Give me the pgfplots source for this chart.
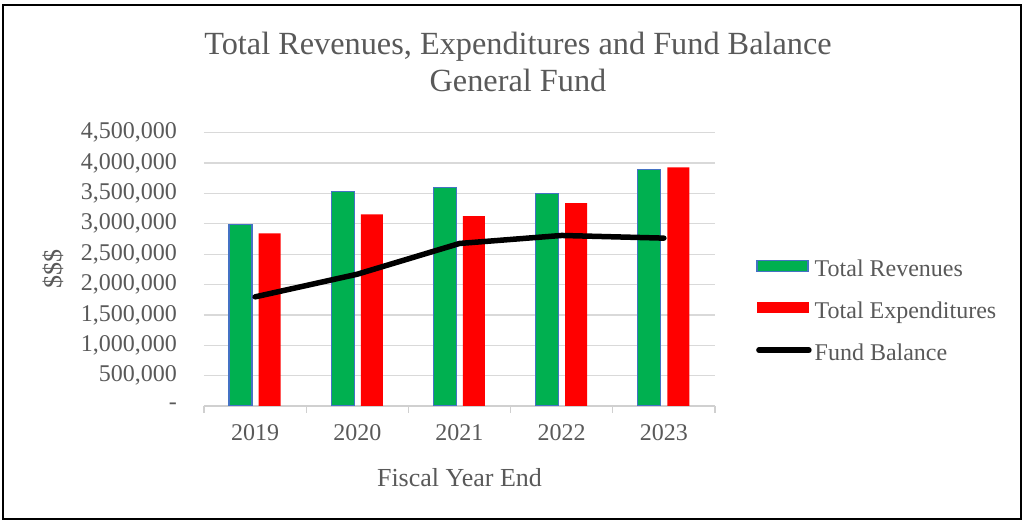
\documentclass[border=0pt]{standalone}
\usepackage{fontspec}
\setmainfont{Liberation Serif}
\usepackage{pgfplots}
\pgfplotsset{compat=1.18}
\definecolor{txt}{HTML}{595959}
\definecolor{grn}{HTML}{00B050}
\definecolor{rd}{HTML}{FF0000}
\definecolor{edgeblue}{HTML}{4472C4}
\definecolor{grid}{HTML}{D9D9D9}
\definecolor{axl}{HTML}{D0D0D0}
\begin{document}
\begin{tikzpicture}[x=1pt,y=1pt]
\begin{axis}[
  scale only axis, width=511pt, height=273.3pt,
  xmin=-0.5, xmax=4.5, ymin=0, ymax=4500000,
  xtick={0,1,2,3,4},
  xticklabels={2019,2020,2021,2022,2023},
  minor xtick={-0.5,0.5,1.5,2.5,3.5,4.5},
  ytick={0,500000,1000000,1500000,2000000,2500000,3000000,3500000,4000000,4500000},
  yticklabels={{-},{500,000},{1,000,000},{1,500,000},{2,000,000},{2,500,000},{3,000,000},{3,500,000},{4,000,000},{4,500,000}},
  scaled y ticks=false,
  axis x line=bottom, axis y line=left,
  x axis line style={-, draw=axl, line width=1.3pt},
  y axis line style={draw=none},
  tick align=outside,
  major tick length=0pt, minor tick length=7pt,
  minor tick style={draw=axl, line width=1.3pt},
  ymajorgrids, major grid style={draw=grid, line width=1.3pt},
  tick label style={font=\fontsize{24}{28}\selectfont, text=txt},
  yticklabel style={anchor=east, inner sep=0pt, xshift=-27pt},
  xticklabel style={anchor=north, inner sep=0pt, yshift=-18pt},
  xlabel={Fiscal Year End},
  ylabel={\$\$\$},
  label style={font=\fontsize{26}{30}\selectfont, text=txt},
  xlabel style={at={(axis description cs:0.5,-0.261)}, anchor=center},
  ylabel style={at={(axis description cs:-0.2955,0.5)}, anchor=center, rotate=0},
  title={Total Revenues, Expenditures and Fund Balance\\General Fund},
  title style={at={(axis description cs:0.6145,1.348)}, anchor=north, align=center, inner sep=0pt, font=\fontsize{32.3}{37.5}\selectfont, text=txt},
  legend style={at={(axis description cs:1.0802,0.5379)}, anchor=north west, draw=none, fill=none, inner sep=0pt,
    font=\fontsize{24}{28}\selectfont, text=txt, row sep=20pt, column sep=3pt,
    nodes={inner sep=0pt, text height=17pt, text depth=5pt}},
  legend cell align=left,
]
\addplot[ybar, bar width=23pt, bar shift=-14.5pt, fill=grn, draw=edgeblue, line width=1.2pt,
  legend image code/.code={\draw[fill=grn, draw=edgeblue, line width=1.2pt] (0pt,-1pt) rectangle (51pt,10pt);}]
  coordinates {(0,2990000) (1,3538000) (2,3599000) (3,3494000) (4,3896000)};
\addlegendentry{Total Revenues}
\addplot[ybar, bar width=22pt, bar shift=14.5pt, fill=rd, draw=none,
  legend image code/.code={\fill[rd] (0pt,-1pt) rectangle (52pt,10pt);}]
  coordinates {(0,2841000) (1,3154000) (2,3126000) (3,3341000) (4,3929000)};
\addlegendentry{Total Expenditures}
\addplot[black, line width=5.5pt, line cap=round, line join=round,
  legend image code/.code={\draw[black, line width=5.5pt, line cap=round] (2pt,4pt) -- (52pt,4pt);}]
  coordinates {(0,1797000) (1,2170000) (2,2676000) (3,2808000) (4,2764000)};
\addlegendentry{Fund Balance}
\coordinate (O) at (rel axis cs:0,0);
\end{axis}
\path (O) ++(-204,-115) rectangle ++(1025,521);
\draw[line width=2pt] (O) ++(-200.5,-112.7) rectangle ++(1017.5,513.2);
\end{tikzpicture}
\end{document}
